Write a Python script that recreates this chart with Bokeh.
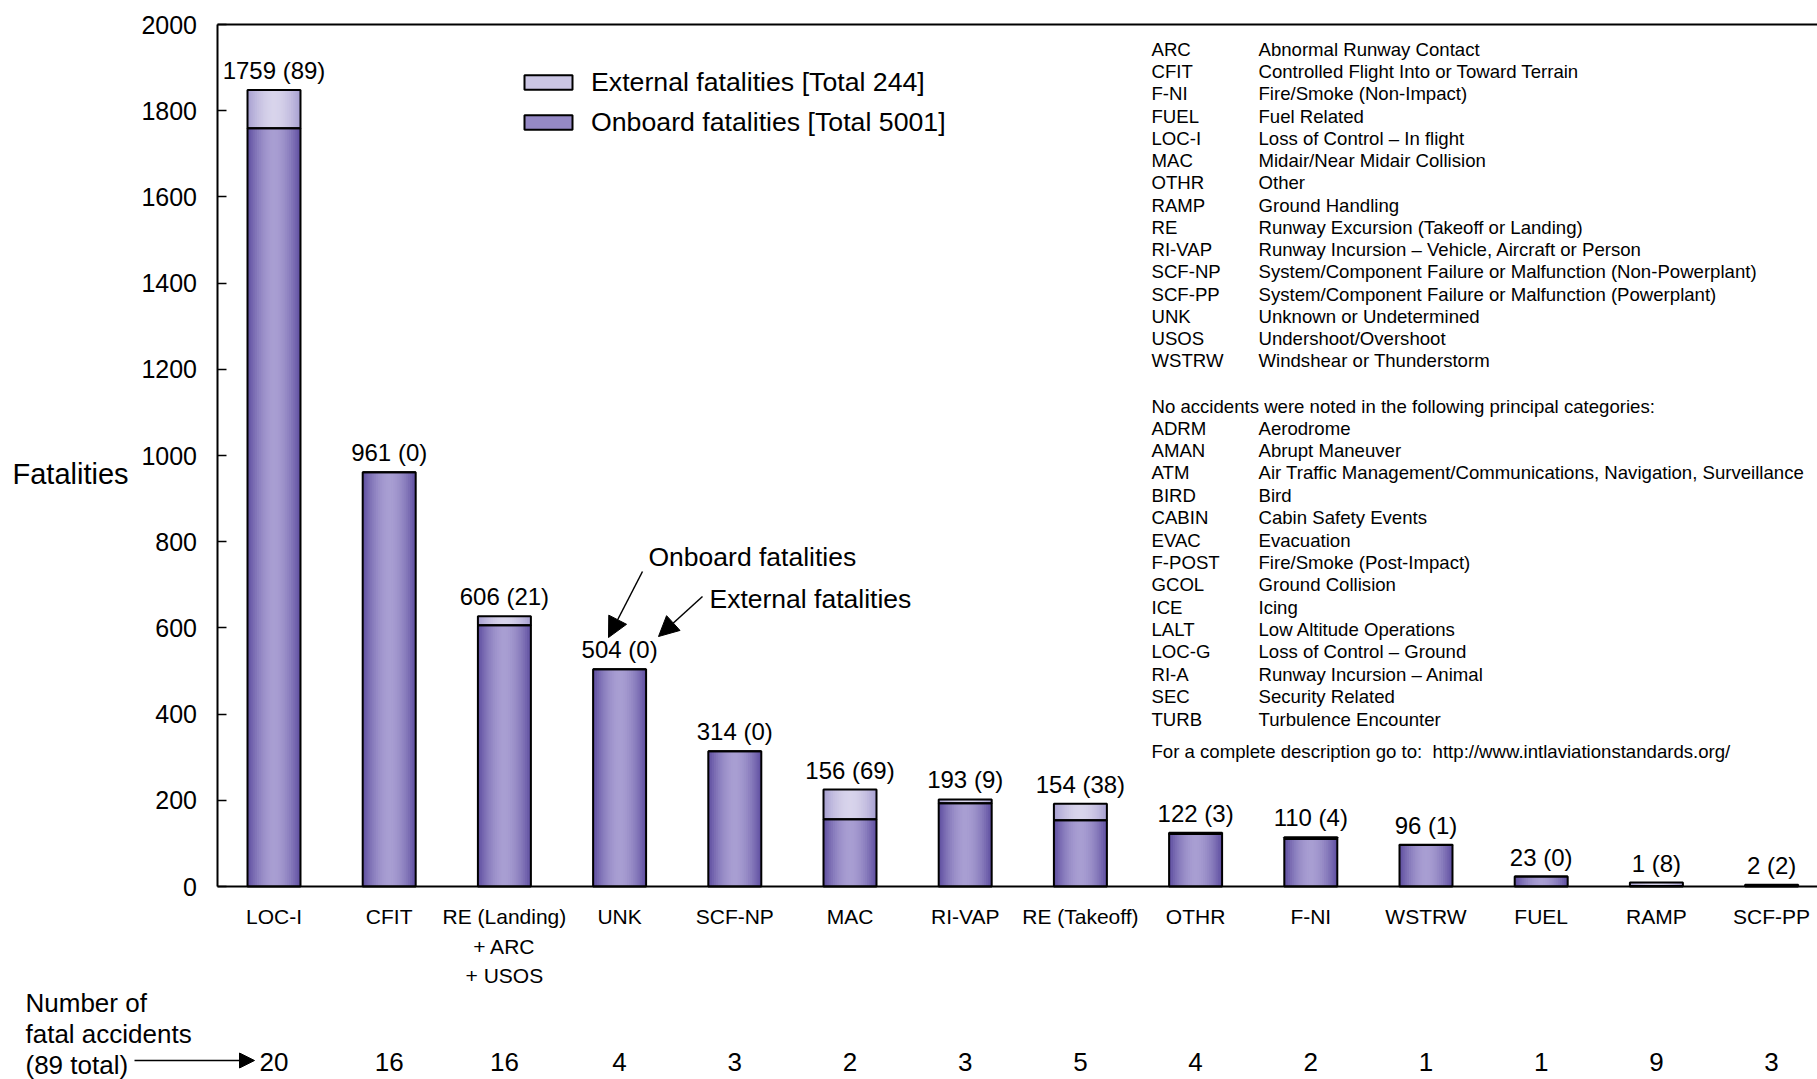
from bokeh.plotting import figure
from bokeh.models import (Range1d, FixedTicker, Label, LabelSet, ColumnDataSource,
                          Arrow, NormalHead, Legend, LegendItem, LinearAxis)
from bokeh.core.properties import value
from bokeh.embed import file_html
from bokeh.resources import INLINE

# ---------------- data ----------------
categories = ["LOC-I", "CFIT", "RE (Landing)", "UNK", "SCF-NP", "MAC", "RI-VAP",
              "RE (Takeoff)", "OTHR", "F-NI", "WSTRW", "FUEL", "RAMP", "SCF-PP"]
category_extra_lines = {2: ["+ ARC", "+ USOS"]}
onboard = [1759, 961, 606, 504, 314, 156, 193, 154, 122, 110, 96, 23, 1, 2]
external = [89, 0, 21, 0, 0, 69, 9, 38, 3, 4, 1, 0, 8, 2]
accidents = [20, 16, 16, 4, 3, 2, 3, 5, 4, 2, 1, 1, 9, 3]
y_ticks = [0, 200, 400, 600, 800, 1000, 1200, 1400, 1600, 1800, 2000]

codes_used = ["ARC", "CFIT", "F-NI", "FUEL", "LOC-I", "MAC", "OTHR", "RAMP", "RE",
              "RI-VAP", "SCF-NP", "SCF-PP", "UNK", "USOS", "WSTRW"]
desc_used = ["Abnormal Runway Contact", "Controlled Flight Into or Toward Terrain",
             "Fire/Smoke (Non-Impact)", "Fuel Related", "Loss of Control \u2013 In flight",
             "Midair/Near Midair Collision", "Other", "Ground Handling",
             "Runway Excursion (Takeoff or Landing)",
             "Runway Incursion \u2013 Vehicle, Aircraft or Person",
             "System/Component Failure or Malfunction (Non-Powerplant)",
             "System/Component Failure or Malfunction (Powerplant)",
             "Unknown or Undetermined", "Undershoot/Overshoot", "Windshear or Thunderstorm"]
codes_none = ["ADRM", "AMAN", "ATM", "BIRD", "CABIN", "EVAC", "F-POST", "GCOL", "ICE",
              "LALT", "LOC-G", "RI-A", "SEC", "TURB"]
desc_none = ["Aerodrome", "Abrupt Maneuver",
             "Air Traffic Management/Communications, Navigation, Surveillance", "Bird",
             "Cabin Safety Events", "Evacuation", "Fire/Smoke (Post-Impact)",
             "Ground Collision", "Icing", "Low Altitude Operations",
             "Loss of Control \u2013 Ground", "Runway Incursion \u2013 Animal",
             "Security Related", "Turbulence Encounter"]
none_header = "No accidents were noted in the following principal categories:"
footer = "For a complete description go to:\u00a0 http://www.intlaviationstandards.org/"

# ---------------- layout (frame = whole canvas) ----------------
FONT = value("Liberation Sans")
W, H = 1817, 1079
X0_PX, DX_PX = 273.5, 115.2          # centre of first bar, bar pitch
AX_PX, TOP_PX = 216.5, 24.0          # y-axis line, 2000 line (page px)
PX_PER_Y = (886.0 - TOP_PX) / 2000.0
BASE_PX = 886.0

def sx(px):
    return px

def sy(py):
    return H - py

n = len(categories)
xs = list(range(n))
totals = [a + b for a, b in zip(onboard, external)]

x_start = (0 - X0_PX) / DX_PX
x_end = (W - X0_PX) / DX_PX
x_axis0 = (AX_PX - X0_PX) / DX_PX
y_end = BASE_PX / PX_PER_Y
y_start = (BASE_PX - H) / PX_PER_Y

p = figure(width=W, height=H, output_backend="svg", toolbar_location=None,
           x_range=Range1d(x_start, x_end), y_range=Range1d(y_start, y_end),
           x_axis_type=None, y_axis_type=None, min_border=0)
p.outline_line_color = None
p.grid.visible = False

# ---------------- bars (gradient strips) ----------------
BW = 0.46
N = 14
on_edge, on_mid = (92, 76, 158), (168, 158, 210)
ex_edge, ex_mid = (166, 158, 208), (216, 212, 235)

def mix(c1, c2, t):
    return "#%02x%02x%02x" % tuple(int(round(a + (b - a) * t)) for a, b in zip(c1, c2))

src = ColumnDataSource(dict(x=xs, on=onboard, tot=totals))
on_mid_r = ex_mid_r = None
for k in range(N):
    r = 1 - (k + 0.5) / N
    t = 1 - r ** 1.8
    w = BW * (1 - k / N)
    ro = p.vbar(x="x", width=w, bottom=0, top="on", source=src,
                fill_color=mix(on_edge, on_mid, t), line_color=None)
    re_ = p.vbar(x="x", width=w, bottom="on", top="tot", source=src,
                 fill_color=mix(ex_edge, ex_mid, t), line_color=None)
    if k == N // 2:
        on_mid_r, ex_mid_r = ro, re_
on_out = p.vbar(x="x", width=BW, bottom=0, top="on", source=src,
                fill_color=None, line_color="black", line_width=2)
ex_out = p.vbar(x="x", width=BW, bottom="on", top="tot", source=src,
                fill_color=None, line_color="black", line_width=2)

# value labels
vsrc = ColumnDataSource(dict(x=xs, y=totals,
                             t=[f"{a} ({b})" for a, b in zip(onboard, external)]))
p.add_layout(LabelSet(x="x", y="y", text="t", source=vsrc, y_offset=11,
                      text_align="center", text_baseline="alphabetic",
                      text_font=FONT, text_font_size="24px", text_color="black"))

# ---------------- axes ----------------
ya = LinearAxis(fixed_location=x_axis0, bounds=(0, 2000), ticker=FixedTicker(ticks=y_ticks))
ya.axis_line_width = 2
ya.axis_line_color = "black"
ya.major_tick_in = 9
ya.major_tick_out = 0
ya.major_tick_line_width = 1.5
ya.minor_tick_line_color = None
ya.major_label_standoff = 20
ya.major_label_text_font = "Liberation Sans"
ya.major_label_text_font_size = "25px"
ya.major_label_text_color = "black"
p.add_layout(ya, "left")

xa = LinearAxis(fixed_location=0, bounds=(x_axis0, x_end), ticker=FixedTicker(ticks=xs))
xa.major_label_overrides = {i: c for i, c in enumerate(categories)}
xa.axis_line_width = 2
xa.axis_line_color = "black"
xa.major_tick_line_color = None
xa.minor_tick_line_color = None
xa.major_label_standoff = 12
xa.major_label_text_font = "Liberation Sans"
xa.major_label_text_font_size = "21px"
xa.major_label_text_color = "black"
p.add_layout(xa, "below")

ta = LinearAxis(fixed_location=2000, bounds=(x_axis0, x_end), ticker=FixedTicker(ticks=[]))
ta.axis_line_width = 2
ta.axis_line_color = "black"
ta.major_tick_line_color = None
ta.minor_tick_line_color = None
ta.major_label_text_font_size = "0px"
p.add_layout(ta, "above")

for i, lines in category_extra_lines.items():
    for j, ln in enumerate(lines):
        p.add_layout(Label(x=i, y=sy(946 + 29 * j), x_units="data", y_units="screen",
                           text=ln, text_align="center", text_baseline="middle",
                           text_font="Liberation Sans", text_font_size="21px",
                           text_color="black"))

p.add_layout(Label(x=sx(12), y=sy(473), x_units="screen", y_units="screen",
                   text="Fatalities", text_baseline="middle",
                   text_font="Liberation Sans", text_font_size="29px", text_color="black"))

# ---------------- accident counts ----------------
csrc = ColumnDataSource(dict(x=xs, t=[str(a) for a in accidents]))
p.add_layout(LabelSet(x="x", y=sy(1070), text="t", source=csrc, x_units="data",
                      y_units="screen", text_align="center", text_baseline="alphabetic",
                      text_font=FONT, text_font_size="26px", text_color="black"))
for j, ln in enumerate(["Number of", "fatal accidents", f"({sum(accidents)} total)"]):
    p.add_layout(Label(x=sx(25), y=sy(1002 + 31 * j), x_units="screen", y_units="screen",
                       text=ln, text_baseline="alphabetic",
                       text_font="Liberation Sans", text_font_size="26px",
                       text_color="black"))
p.add_layout(Arrow(x_start=sx(134), y_start=sy(1060), x_end=sx(254), y_end=sy(1060),
                   start_units="screen", end_units="screen", line_width=1.5,
                   end=NormalHead(size=15, fill_color="black", line_color="black")))

# ---------------- legend ----------------
legend = Legend(items=[
    LegendItem(label=f"External fatalities [Total {sum(external)}]", renderers=[ex_mid_r, ex_out]),
    LegendItem(label=f"Onboard fatalities [Total {sum(onboard)}]", renderers=[on_mid_r, on_out]),
], location=(sx(518), sy(142)), padding=0, margin=0, spacing=0,
    glyph_width=60, glyph_height=18, label_height=40, label_standoff=13,
    label_text_font="Liberation Sans", label_text_font_size="26.7px", label_text_color="black",
    border_line_color=None, background_fill_alpha=0)
p.add_layout(legend)

# ---------------- callouts ----------------
p.add_layout(Label(x=sx(648), y=sy(556), x_units="screen", y_units="screen",
                   text="Onboard fatalities", text_baseline="middle",
                   text_font="Liberation Sans", text_font_size="26.5px", text_color="black"))
p.add_layout(Label(x=sx(709), y=sy(598), x_units="screen", y_units="screen",
                   text="External fatalities", text_baseline="middle",
                   text_font="Liberation Sans", text_font_size="26.5px", text_color="black"))
p.add_layout(Arrow(x_start=sx(642), y_start=sy(571), x_end=sx(608), y_end=sy(637),
                   start_units="screen", end_units="screen", line_width=1.5,
                   end=NormalHead(size=20, fill_color="black", line_color="black")))
p.add_layout(Arrow(x_start=sx(702), y_start=sy(596), x_end=sx(658), y_end=sy(636),
                   start_units="screen", end_units="screen", line_width=1.5,
                   end=NormalHead(size=20, fill_color="black", line_color="black")))

# ---------------- category descriptions ----------------
CX, DXT = 1151, 1258
rows_x, rows_y, rows_t = [], [], []
for i, (c, d) in enumerate(zip(codes_used, desc_used)):
    y = sy(48.7 + 22.27 * i)
    rows_x += [sx(CX), sx(DXT)]
    rows_y += [y, y]
    rows_t += [c, d]
rows_x.append(sx(CX)); rows_y.append(sy(405.6)); rows_t.append(none_header)
for i, (c, d) in enumerate(zip(codes_none, desc_none)):
    y = sy(427.6 + 22.38 * i)
    rows_x += [sx(CX), sx(DXT)]
    rows_y += [y, y]
    rows_t += [c, d]
rows_x.append(sx(CX)); rows_y.append(sy(751)); rows_t.append(footer)
dsrc = ColumnDataSource(dict(x=rows_x, y=rows_y, t=rows_t))
p.add_layout(LabelSet(x="x", y="y", text="t", source=dsrc, x_units="screen",
                      y_units="screen", text_baseline="middle",
                      text_font=FONT, text_font_size="18.6px", text_color="black"))

open("out.html", "w").write(file_html(p, INLINE))
